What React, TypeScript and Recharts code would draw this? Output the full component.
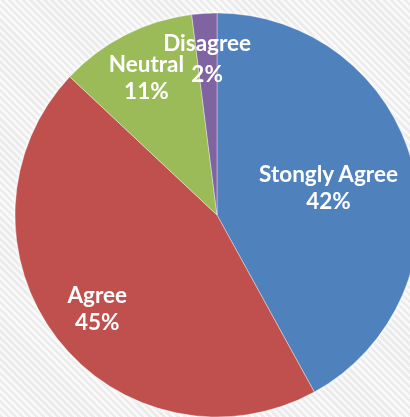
import { PieChart, Pie, Cell } from "recharts"

// survey answers, clockwise from 12 o'clock
const categories = ["Stongly Agree", "Agree", "Neutral", "Disagree"]
const shares = [42, 45, 11, 2]

const COLORS = ["#4f81bd", "#c0504d", "#9bbb59", "#8064a2"]
// how far out along the radius each label block sits, and its line gap
const LABEL_RADIUS = [0.57, 0.75, 0.77, 0.78]
const LABEL_GAP = [27, 27, 27, 31]

const data = categories.map((name, i) => ({ name, value: shares[i] }))

const RAD = Math.PI / 180

const renderLabel = (props: any) => {
  const { cx, cy, midAngle, outerRadius, index, name, value } = props
  const r = outerRadius * LABEL_RADIUS[index]
  const x = cx + r * Math.cos(-midAngle * RAD)
  const y = cy + r * Math.sin(-midAngle * RAD)
  const gap = LABEL_GAP[index]
  return (
    <text
      x={x}
      y={y}
      fill="#ffffff"
      textAnchor="middle"
      dominantBaseline="central"
      style={{ fontFamily: "Lato, 'Open Sans', sans-serif", fontWeight: 700, fontSize: 22.5 }}
    >
      <tspan x={x} y={y - gap / 2}>{name}</tspan>
      <tspan x={x} y={y + gap / 2}>{`${value}%`}</tspan>
    </text>
  )
}

export default function App() {
  return (
    <div
      style={{
        width: 410,
        height: 417,
        overflow: "hidden",
        background: "repeating-linear-gradient(45deg, #ebebeb 0px, #ebebeb 2.5px, #f9f9f9 2.5px, #f9f9f9 5px)",
      }}
    >
      <style>{`body { margin: 0; }`}</style>
      <PieChart
        width={410}
        height={417}
        margin={{ top: 0, right: 0, bottom: 0, left: 0 }}
        style={{ filter: "drop-shadow(0 0 2px rgba(255,255,255,0.95))" }}
      >
        <Pie
          data={data}
          dataKey="value"
          nameKey="name"
          cx={217}
          cy={215}
          outerRadius={202}
          startAngle={90}
          endAngle={-270}
          stroke="#ffffff"
          strokeOpacity={0.45}
          strokeWidth={0.8}
          label={renderLabel}
          labelLine={false}
          isAnimationActive={false}
        >
          {data.map((d, i) => (
            <Cell key={d.name} fill={COLORS[i]} />
          ))}
        </Pie>
      </PieChart>
    </div>
  )
}
